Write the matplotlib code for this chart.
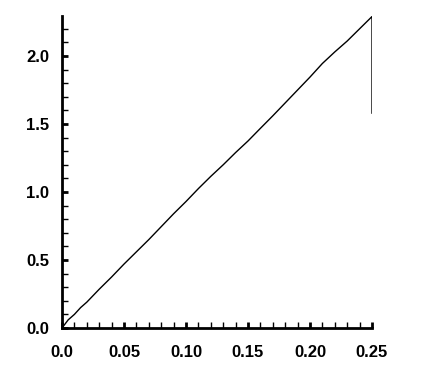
import matplotlib
matplotlib.use("Agg")
import matplotlib.pyplot as plt
from matplotlib.ticker import MultipleLocator, FixedFormatter, FixedLocator

# curve
x = [0.0, 0.005, 0.01, 0.015, 0.02, 0.03, 0.04, 0.05, 0.06, 0.07, 0.08, 0.09,
     0.10, 0.11, 0.12, 0.13, 0.14, 0.15, 0.16, 0.17, 0.18, 0.19, 0.20, 0.21,
     0.22, 0.23, 0.24, 0.25, 0.25]
y = [0.0, 0.06, 0.10, 0.15, 0.19, 0.285, 0.375, 0.47, 0.56, 0.65, 0.745, 0.84,
     0.93, 1.025, 1.115, 1.20, 1.29, 1.375, 1.468, 1.56, 1.655, 1.75, 1.845, 1.945,
     2.03, 2.11, 2.20, 2.29, 1.58]

xticks = [0.0, 0.05, 0.10, 0.15, 0.20, 0.25]
xtick_labels = ["0.0", "0.05", "0.10", "0.15", "0.20", "0.25"]
yticks = [0.0, 0.5, 1.0, 1.5, 2.0]
ytick_labels = ["0.0", "0.5", "1.0", "1.5", "2.0"]

fig = plt.figure(figsize=(4.28, 3.82), dpi=100)
ax = fig.add_axes([62 / 428, 1 - 328 / 382, 310 / 428, 312 / 382])

ax.plot(x, y, color="black", linewidth=1.0)

ax.set_xlim(0, 0.25)
ax.set_ylim(0, 2.294)

ax.xaxis.set_major_locator(FixedLocator(xticks))
ax.xaxis.set_major_formatter(FixedFormatter(xtick_labels))
ax.yaxis.set_major_locator(FixedLocator(yticks))
ax.yaxis.set_major_formatter(FixedFormatter(ytick_labels))
ax.xaxis.set_minor_locator(MultipleLocator(0.01))
ax.yaxis.set_minor_locator(MultipleLocator(0.1))

for side in ["top", "right"]:
    ax.spines[side].set_visible(False)
for side in ["left", "bottom"]:
    ax.spines[side].set_linewidth(2)

ax.tick_params(which="major", direction="in", length=4, width=2, labelsize=12)
ax.tick_params(which="minor", direction="in", length=4, width=1)
ax.tick_params(axis="x", which="major", pad=12)
ax.tick_params(axis="y", which="major", pad=9)
for lbl in ax.get_xticklabels() + ax.get_yticklabels():
    lbl.set_fontweight("bold")
    lbl.set_fontfamily("Liberation Sans")

fig.savefig("out.png", dpi=100)
